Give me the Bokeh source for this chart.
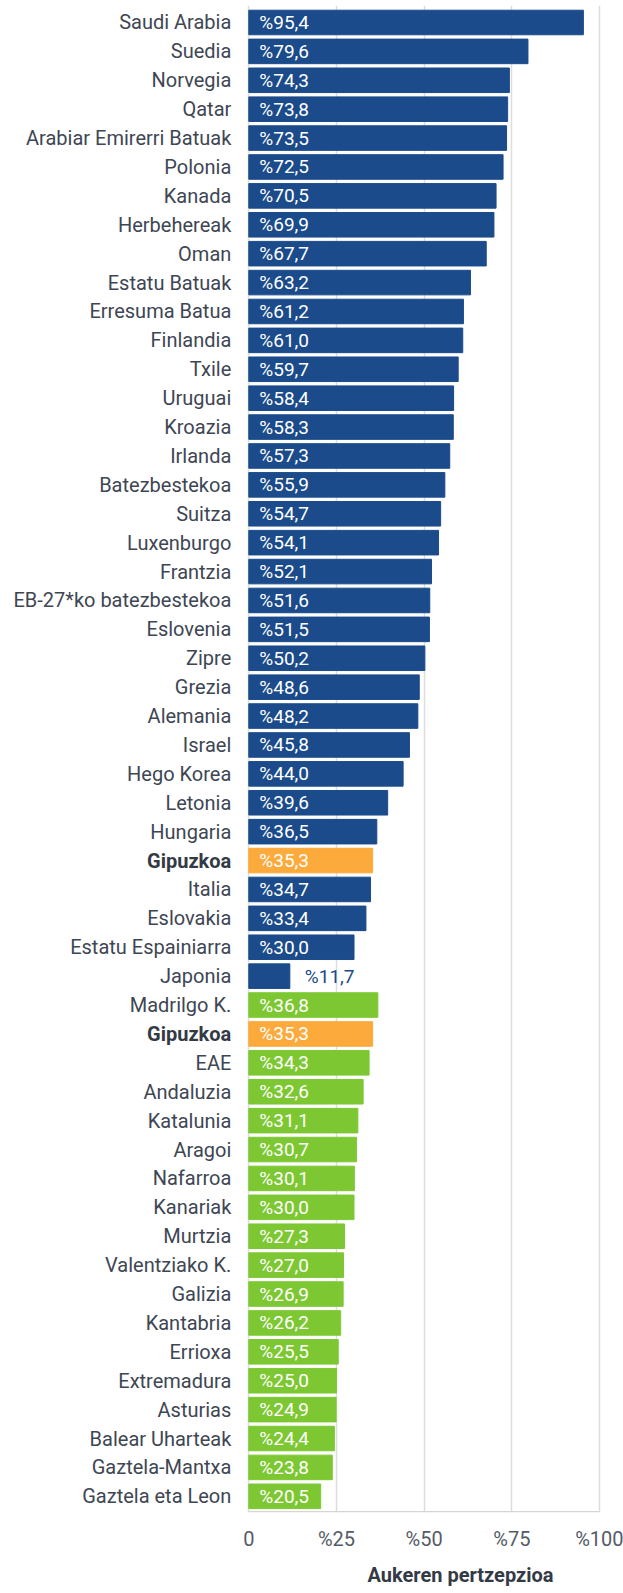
from bokeh.plotting import figure
from bokeh.models import ColumnDataSource, Range1d, FixedTicker, LabelSet, Title
from bokeh.core.properties import value
from bokeh.embed import file_html
from bokeh.resources import INLINE

categories = ["Saudi Arabia", "Suedia", "Norvegia", "Qatar", "Arabiar Emirerri Batuak",
              "Polonia", "Kanada", "Herbehereak", "Oman", "Estatu Batuak", "Erresuma Batua",
              "Finlandia", "Txile", "Uruguai", "Kroazia", "Irlanda", "Batezbestekoa", "Suitza",
              "Luxenburgo", "Frantzia", "EB-27*ko batezbestekoa", "Eslovenia", "Zipre", "Grezia",
              "Alemania", "Israel", "Hego Korea", "Letonia", "Hungaria", "Gipuzkoa", "Italia",
              "Eslovakia", "Estatu Espainiarra", "Japonia", "Madrilgo K.", "Gipuzkoa", "EAE",
              "Andaluzia", "Katalunia", "Aragoi", "Nafarroa", "Kanariak", "Murtzia",
              "Valentziako K.", "Galizia", "Kantabria", "Errioxa", "Extremadura", "Asturias",
              "Balear Uharteak", "Gaztela-Mantxa", "Gaztela eta Leon"]
values = [95.4, 79.6, 74.3, 73.8, 73.5, 72.5, 70.5, 69.9, 67.7, 63.2, 61.2, 61.0, 59.7, 58.4,
          58.3, 57.3, 55.9, 54.7, 54.1, 52.1, 51.6, 51.5, 50.2, 48.6, 48.2, 45.8, 44.0, 39.6,
          36.5, 35.3, 34.7, 33.4, 30.0, 11.7, 36.8, 35.3, 34.3, 32.6, 31.1, 30.7, 30.1, 30.0,
          27.3, 27.0, 26.9, 26.2, 25.5, 25.0, 24.9, 24.4, 23.8, 20.5]
groups = ["world"] * 34 + ["spain"] * 18
groups[29] = "gipuzkoa"
groups[35] = "gipuzkoa"
x_ticks = [0, 25, 50, 75, 100]
x_tick_labels = ["0", "%25", "%50", "%75", "%100"]
axis_title = "Aukeren pertzepzioa"

palette = {"world": "#1B4B8A", "gipuzkoa": "#FBAA3B", "spain": "#7DC832"}
n = len(categories)
idx = list(range(n))
colors = [palette[g] for g in groups]
styles = ["bold" if g == "gipuzkoa" else "normal" for g in groups]
lab_colors = ["#333A45" if g == "gipuzkoa" else "#3E4654" for g in groups]
val_text = ["%" + ("%.1f" % v).replace(".", ",") for v in values]
inside = [v > 15 for v in values]
val_x = [0 if ins else v for ins, v in zip(inside, values)]
val_off = [10.5 if ins else 15 for ins in inside]
val_col = ["white" if ins else "#1B4B8A" for ins in inside]

src = ColumnDataSource(dict(y=idx, v=values, c=colors, cat=categories, st=styles,
                            lc=lab_colors, vt=val_text, vx=val_x, vo=val_off, vc=val_col,
                            zero=[0] * n))

y_bottom = 51.56
p = figure(width=623, height=1593, output_backend="svg", toolbar_location=None,
           x_range=Range1d(-70.80, 106.84), y_range=Range1d(y_bottom, -0.588),
           min_border_left=0, min_border_right=0, min_border_top=5,
           min_border_bottom=81)
p.outline_line_color = None
p.background_fill_color = "white"

p.hbar(y="y", right="v", left=0, height=0.85, color="c", source=src)

p.yaxis.visible = False
p.ygrid.visible = False
p.xgrid.ticker = FixedTicker(ticks=x_ticks)
p.xgrid.grid_line_color = "#DDDDDD"
p.xgrid.grid_line_width = 1.5
p.xaxis.ticker = FixedTicker(ticks=x_ticks)
p.xaxis.major_label_overrides = {t: l for t, l in zip(x_ticks, x_tick_labels)}
p.xaxis.major_tick_line_color = None
p.xaxis.minor_tick_line_color = None
p.xaxis.axis_line_color = None
p.xaxis.major_label_standoff = 8
p.xaxis.major_label_text_font = "Roboto"
p.xaxis.major_label_text_font_size = "20px"
p.xaxis.major_label_text_color = "#555B66"

# axis baseline only under the data area
p.segment(x0=[x_ticks[0]], x1=[x_ticks[-1]], y0=[y_bottom - 0.03], y1=[y_bottom - 0.03],
          line_color="#D5D5D5", line_width=1.5)

cat_labels = LabelSet(x="zero", y="y", text="cat", source=src, x_offset=-17.5,
                      text_align="right", text_baseline="middle",
                      text_font=value("Roboto"), text_font_size="20px",
                      text_font_style="st", text_color="lc")
p.add_layout(cat_labels)

val_labels = LabelSet(x="vx", y="y", text="vt", source=src, x_offset="vo",
                      text_align="left", text_baseline="middle",
                      text_font=value("Roboto"), text_font_size="19px",
                      text_color="vc")
p.add_layout(val_labels)

p.add_layout(Title(text=axis_title, align="left", offset=367, text_font="Roboto",
                   text_font_size="20px", text_font_style="bold",
                   text_color="#333A45", standoff=14), "below")

open("out.html", "w").write(file_html(p, INLINE))
